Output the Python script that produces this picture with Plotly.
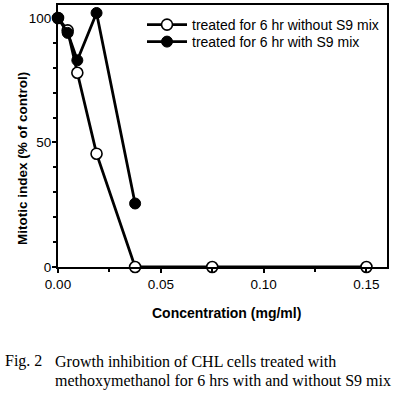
import plotly.graph_objects as go

conc_without = [0.0, 0.0047, 0.0094, 0.01875, 0.0375, 0.075, 0.15]
mi_without = [100, 95, 78, 45.5, 0, 0, 0]
conc_with = [0.0, 0.0047, 0.0094, 0.01875, 0.0375]
mi_with = [100, 94, 83, 102, 25.5]

label_without = "treated for 6 hr without S9 mix"
label_with = "treated for 6 hr with S9 mix"
x_title = "Concentration (mg/ml)"
y_title = "Mitotic index (% of control)"
caption_fig = "Fig. 2"
caption1 = "Growth inhibition of CHL cells treated with"
caption2 = "methoxymethanol for 6 hrs with and without S9 mix"

L, R, T, B = 58, 12, 5, 126
PW, PH = 399 - L - R, 393 - T - B

def px_x(x):
    return (x - L) / PW

def px_y(y):
    return (393 - B - y) / PH

sans = "Liberation Sans, Arial, sans-serif"
serif = "Liberation Serif, Times New Roman, serif"

fig = go.Figure()
fig.add_trace(go.Scatter(
    x=conc_without, y=mi_without, name=label_without, mode="lines+markers",
    line=dict(color="black", width=2.8),
    marker=dict(symbol="circle", size=11, color="white", line=dict(color="black", width=1.6)),
    cliponaxis=False, legend="legend"))
fig.add_trace(go.Scatter(
    x=conc_with, y=mi_with, name=label_with, mode="lines+markers",
    line=dict(color="black", width=2.8),
    marker=dict(symbol="circle", size=11, color="black", line=dict(color="black", width=1)),
    cliponaxis=False, legend="legend2"))

leg_common = dict(xanchor="left", yanchor="middle", bgcolor="rgba(0,0,0,0)",
                  font=dict(size=14, family=sans), itemwidth=40)

fig.update_layout(
    width=399, height=393,
    margin=dict(l=L, r=R, t=T, b=B, autoexpand=False),
    paper_bgcolor="white", plot_bgcolor="white",
    font=dict(family=sans, color="black", size=13),
    showlegend=True,
    legend=dict(x=px_x(142), y=px_y(25), **leg_common),
    legend2=dict(x=px_x(142), y=px_y(42), **leg_common),
    xaxis=dict(range=[0, 0.16], tickvals=[0, 0.05, 0.10, 0.15],
               ticktext=["0.00", "0.05", "0.10", "0.15"],
               ticks="outside", ticklen=4, tickwidth=1.5, tickcolor="black",
               minor=dict(tickvals=[0.025, 0.075, 0.125], ticks="outside", ticklen=3, tickcolor="black"),
               showline=True, linecolor="black", linewidth=2, mirror=True,
               showgrid=False, zeroline=False, automargin=False,
               tickfont=dict(size=13.5)),
    yaxis=dict(range=[0, 105.2], tickvals=[0, 50, 100],
               ticks="outside", ticklen=4, tickwidth=1.5, tickcolor="black",
               minor=dict(dtick=10, ticks="outside", ticklen=3, tickcolor="black"),
               showline=True, linecolor="black", linewidth=2, mirror=True,
               showgrid=False, zeroline=False, automargin=False,
               ticklabelstandoff=-2,
               tickfont=dict(size=13.5)),
    annotations=[
        dict(text="<b>" + x_title + "</b>", xref="paper", yref="paper",
             x=px_x(226), y=px_y(313), xanchor="center", yanchor="middle",
             showarrow=False, font=dict(family=sans, size=14)),
        dict(text="<b>" + y_title + "</b>", xref="paper", yref="paper",
             x=px_x(22), y=px_y(159), xanchor="center", yanchor="middle",
             textangle=-90, showarrow=False, font=dict(family=sans, size=13.5)),
        dict(text=caption_fig, xref="paper", yref="paper", x=px_x(3), y=px_y(361),
             xanchor="left", yanchor="middle", showarrow=False,
             font=dict(family=serif, size=16)),
        dict(text=caption1, xref="paper", yref="paper", x=px_x(53), y=px_y(361),
             xanchor="left", yanchor="middle", showarrow=False,
             font=dict(family=serif, size=16)),
        dict(text=caption2, xref="paper", yref="paper", x=px_x(53), y=px_y(381),
             xanchor="left", yanchor="middle", showarrow=False,
             font=dict(family=serif, size=16)),
    ],
)

fig.write_html("out.html", config={"displayModeBar": False},
               post_script="document.body.style.margin='0';")
